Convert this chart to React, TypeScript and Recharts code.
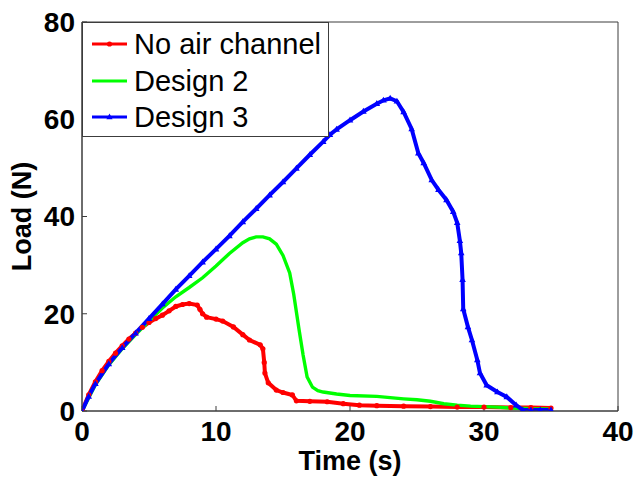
import React from 'react';
import {
  LineChart,
  Line,
  XAxis,
  YAxis,
  Legend,
  ReferenceArea,
} from 'recharts';

// ---- data: load (N) against time (s) for three channel designs ----
const redTime = [0, 0.5, 1, 1.5, 2, 2.5, 3, 3.5, 4, 4.5, 5, 5.5, 6, 6.5, 7, 7.5, 8, 8.6, 8.8, 9.0, 9.3, 10, 10.5, 11.3, 12, 12.5, 13.3, 13.5, 13.6, 13.65, 13.9, 14.5, 15, 15.7, 16, 17, 18.3, 19.5, 20.7, 22, 24, 26, 28, 30, 32, 33.5, 35];
const redLoad = [0, 3.3, 6.0, 8.3, 10.2, 11.9, 13.4, 14.8, 16.0, 17.2, 18.2, 19.0, 19.7, 20.6, 21.5, 21.9, 22.1, 21.8, 20.9, 20.0, 19.3, 18.9, 18.5, 17.3, 15.7, 14.6, 13.6, 12.8, 10.0, 7.8, 5.8, 4.3, 3.8, 3.3, 2.1, 2.0, 1.9, 1.5, 1.2, 1.1, 1.0, 0.9, 0.8, 0.8, 0.7, 0.7, 0.6];

const greenTime = [0, 1, 2, 3, 4, 5, 6, 7, 8, 9, 10, 11, 12, 12.5, 13, 13.5, 14, 14.5, 15, 15.5, 15.8, 16.2, 16.5, 16.8, 17.2, 17.6, 18, 19, 20, 22, 24, 25, 26, 27, 28, 29, 30, 31, 32, 33, 34, 35];
const greenLoad = [0, 5.4, 9.5, 12.8, 15.7, 18.5, 21.2, 23.5, 25.4, 27.4, 29.8, 32.4, 34.6, 35.4, 35.8, 35.8, 35.4, 34.3, 32.0, 28.4, 24.0, 16.7, 11.5, 7.0, 4.9, 4.2, 3.9, 3.5, 3.2, 3.0, 2.5, 2.3, 2.0, 1.5, 1.2, 1.0, 0.9, 0.8, 0.6, 0.5, 0.4, 0.4];

const blueTime = [0, 0.5, 1, 2, 3, 4, 5, 6, 7, 8, 9, 10, 11, 12, 13, 14, 15, 16, 17, 18, 18.5, 19, 20, 21, 22, 22.5, 23, 23.5, 24, 24.6, 25.1, 25.5, 26.1, 26.6, 27.2, 27.7, 28.0, 28.2, 28.3, 28.4, 28.45, 28.8, 29.1, 29.5, 29.7, 30.2, 31.0, 31.7, 32.4, 32.9, 33.5, 34.2, 35];
const blueLoad = [0, 3.0, 5.6, 9.7, 13.0, 16.0, 19.0, 22.0, 25.0, 27.8, 30.6, 33.3, 36.0, 38.9, 41.6, 44.4, 47.1, 49.9, 52.7, 55.4, 56.8, 57.9, 59.8, 61.6, 63.2, 63.9, 64.3, 63.7, 61.5, 58.0, 53.0, 51.0, 47.5, 45.5, 43.4, 41.0, 38.7, 35.0, 32.5, 27.0, 21.0, 17.3, 14.6, 10.5, 7.8, 5.3, 3.9, 2.9, 1.2, 0.2, 0.2, 0.2, 0.2];

const xTicks = [0, 10, 20, 30, 40];
const yTicks = [0, 20, 40, 60, 80];

const seriesNames = ['No air channel', 'Design 2', 'Design 3'];
const seriesColors = ['#ff0000', '#00ff00', '#0000ff'];

const toPoints = (times: number[], loads: number[]) =>
  times.map((t, i) => ({ t, load: loads[i] }));

const redData = toPoints(redTime, redLoad);
const greenData = toPoints(greenTime, greenLoad);
const blueData = toPoints(blueTime, blueLoad);

const FONT = '"Liberation Sans", Arial, Helvetica, sans-serif';
const AXIS_COLOR = '#3c3c3c';

// ---- markers ----
const RedDot = (p: any) => {
  if (p.cx == null || p.cy == null) return <g key={`rd-${p.index}`} />;
  return <circle key={`rd-${p.index}`} cx={p.cx} cy={p.cy} r={2.6} fill="#ff0000" />;
};

const BlueMark = (p: any) => {
  if (p.cx == null || p.cy == null) return <g key={`bm-${p.index}`} />;
  const { cx, cy } = p;
  return (
    <path
      key={`bm-${p.index}`}
      d={`M${cx},${cy - 3.6}L${cx + 3.3},${cy + 2.3}L${cx - 3.3},${cy + 2.3}Z`}
      fill="#0000ff"
    />
  );
};

// ---- axis titles ----
const YTitle = (props: any) => {
  const vb = props.viewBox || {};
  const cx = (vb.x ?? 0) + 22;
  const cy = (vb.y ?? 0) + (vb.height ?? 0) / 2;
  return (
    <text
      x={cx}
      y={cy}
      transform={`rotate(-90, ${cx}, ${cy})`}
      textAnchor="middle"
      dominantBaseline="central"
      fontFamily={FONT}
      fontSize={27}
      fontWeight="bold"
      fill="#000"
    >
      Load (N)
    </text>
  );
};

const XTitle = (props: any) => {
  const vb = props.viewBox || {};
  const cx = (vb.x ?? 0) + (vb.width ?? 0) / 2;
  const y = (vb.y ?? 0) + 59;
  return (
    <text
      x={cx}
      y={y}
      textAnchor="middle"
      fontFamily={FONT}
      fontSize={27}
      fontWeight="bold"
      fill="#000"
    >
      Time (s)
    </text>
  );
};

// ---- legend box ----
const LegendBox = () => (
  <div
    style={{
      width: 247,
      height: 115,
      boxSizing: 'border-box',
      border: `1px solid ${AXIS_COLOR}`,
      background: '#fff',
      paddingTop: 3,
      fontFamily: FONT,
      fontSize: 29,
      color: '#000',
    }}
  >
    {seriesNames.map((name, i) => (
      <div
        key={name}
        style={{ height: 36.5, display: 'flex', alignItems: 'center', whiteSpace: 'nowrap' }}
      >
        <svg width={51} height={12} style={{ flex: 'none' }}>
          <line x1={9} x2={44} y1={6} y2={6} stroke={seriesColors[i]} strokeWidth={3} />
          {i === 0 && <circle cx={26.5} cy={6} r={2.6} fill={seriesColors[i]} />}
          {i === 2 && <path d="M26.5,2.6L29.6,8.2L23.4,8.2Z" fill={seriesColors[i]} />}
        </svg>
        <span style={{ lineHeight: '36px' }}>{name}</span>
      </div>
    ))}
  </div>
);

export default function App() {
  const tickStyle = { fontFamily: FONT, fontSize: 28, fontWeight: 'bold', fill: '#000' };
  return (
    <div style={{ position: 'fixed', left: 0, top: 0, width: 634, height: 477, background: '#fff' }}>
      <LineChart
        width={634}
        height={477}
        margin={{ top: 22, right: 16, left: 0, bottom: 0 }}
      >
        <XAxis
          dataKey="t"
          type="number"
          domain={[0, 40]}
          ticks={xTicks}
          allowDataOverflow
          height={66}
          tickSize={-5}
          tickMargin={15}
          stroke={AXIS_COLOR}
          tick={tickStyle}
          label={<XTitle />}
        />
        <YAxis
          type="number"
          domain={[0, 80]}
          ticks={yTicks}
          allowDataOverflow
          width={82}
          tickSize={-5}
          tickMargin={12}
          stroke={AXIS_COLOR}
          tick={tickStyle}
          label={<YTitle />}
        />
        <ReferenceArea
          x1={0}
          x2={40}
          y1={0}
          y2={80}
          fill="none"
          fillOpacity={0}
          stroke={AXIS_COLOR}
          strokeWidth={1}
        />
        <Line
          data={redData}
          dataKey="load"
          name={seriesNames[0]}
          type="linear"
          stroke={seriesColors[0]}
          strokeWidth={4}
          dot={RedDot}
          activeDot={false}
          isAnimationActive={false}
        />
        <Line
          data={greenData}
          dataKey="load"
          name={seriesNames[1]}
          type="linear"
          stroke={seriesColors[1]}
          strokeWidth={3.4}
          dot={false}
          activeDot={false}
          isAnimationActive={false}
        />
        <Line
          data={blueData}
          dataKey="load"
          name={seriesNames[2]}
          type="linear"
          stroke={seriesColors[2]}
          strokeWidth={4}
          dot={BlueMark}
          activeDot={false}
          isAnimationActive={false}
        />
        <Legend
          layout="vertical"
          align="center"
          verticalAlign="middle"
          content={<LegendBox />}
          wrapperStyle={{ top: 22, left: 82, width: 247, height: 115 }}
        />
      </LineChart>
    </div>
  );
}
